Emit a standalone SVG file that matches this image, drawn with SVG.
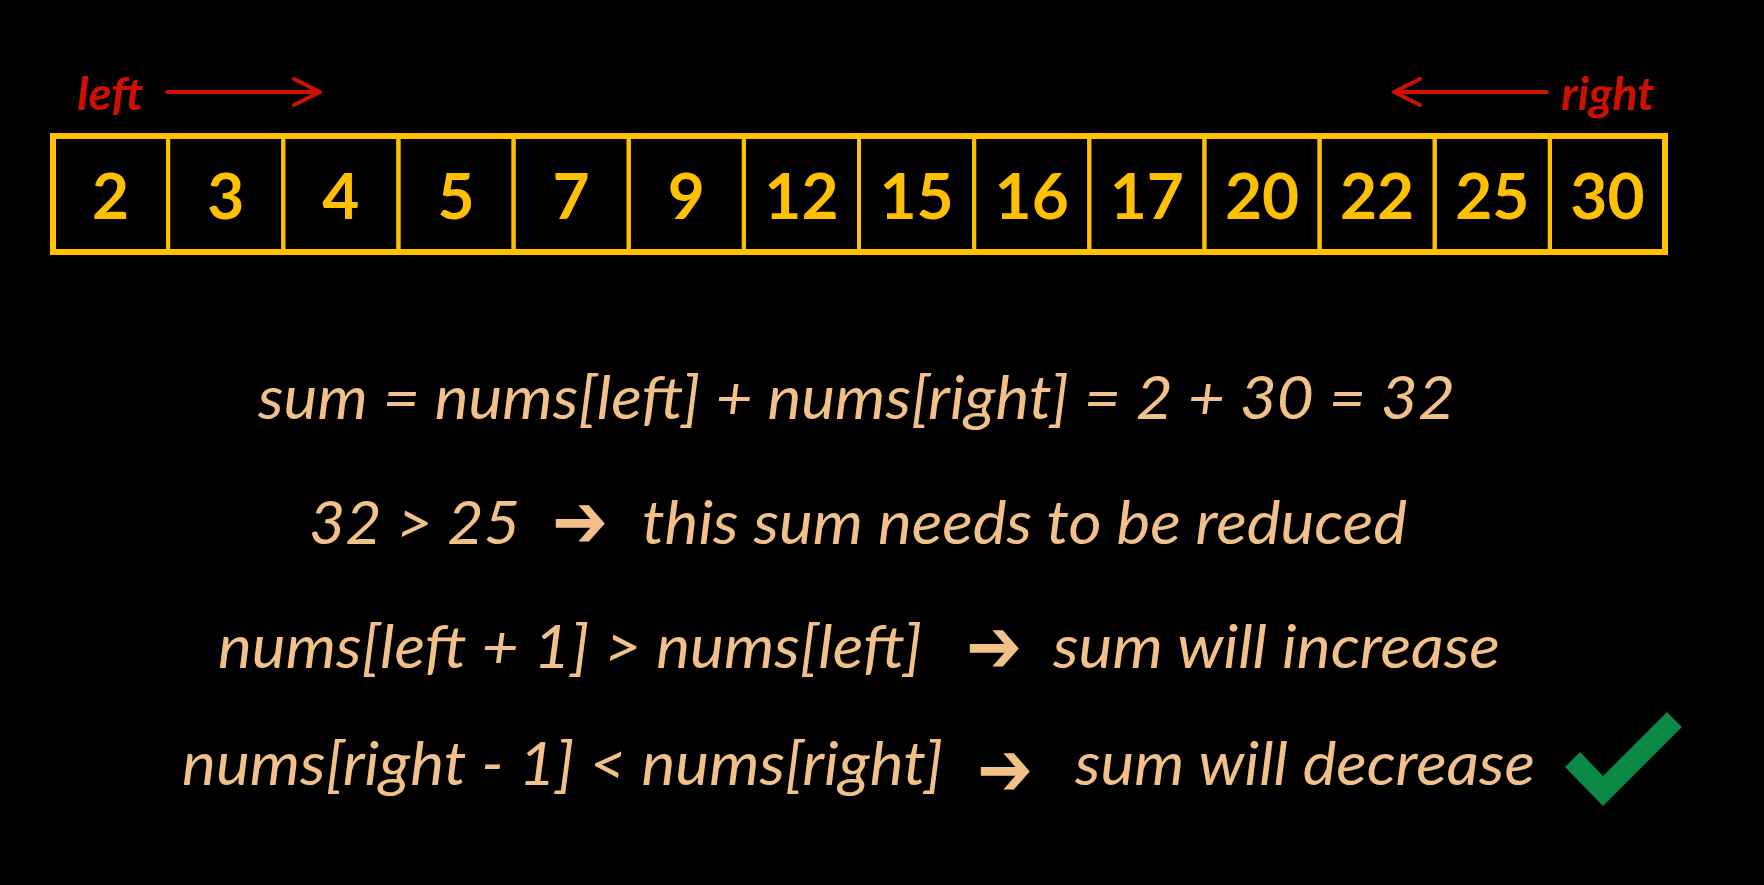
<svg xmlns="http://www.w3.org/2000/svg" width="1764" height="885" viewBox="0 0 1764 885">
<style>
.cell{fill:none;stroke:#FFC000;stroke-width:4}
.outer{fill:none;stroke:#FFC000;stroke-width:6}
.num{font-family:Lato,"Liberation Sans",sans-serif;font-weight:700;font-size:64px;fill:#FFC000;text-anchor:middle}
.ptr{font-family:Lato,"Liberation Sans",sans-serif;font-weight:700;font-style:italic;font-size:46px;fill:#CC1100}
.red{fill:none;stroke:#CC1100;stroke-width:4;stroke-linecap:round;stroke-linejoin:round}
.txt{font-family:Lato,"Liberation Sans",sans-serif;font-style:italic;font-size:60px;fill:#F2C089}
.arr{font-family:"DejaVu Sans",sans-serif;font-weight:700;font-size:76px;fill:#F2C089}
</style>
<rect width="1764" height="885" fill="#000"/>
<g id="array">
<g id="c0"><rect class="cell" x="53" y="136" width="115.14" height="116"/><text class="num" x="110.57" y="219">2</text></g>
<g id="c1"><rect class="cell" x="168.14" y="136" width="115.14" height="116"/><text class="num" x="225.71" y="219">3</text></g>
<g id="c2"><rect class="cell" x="283.29" y="136" width="115.14" height="116"/><text class="num" x="340.86" y="219">4</text></g>
<g id="c3"><rect class="cell" x="398.43" y="136" width="115.14" height="116"/><text class="num" x="456" y="219">5</text></g>
<g id="c4"><rect class="cell" x="513.57" y="136" width="115.14" height="116"/><text class="num" x="571.14" y="219">7</text></g>
<g id="c5"><rect class="cell" x="628.71" y="136" width="115.14" height="116"/><text class="num" x="686.29" y="219">9</text></g>
<g id="c6"><rect class="cell" x="743.86" y="136" width="115.14" height="116"/><text class="num" x="801.43" y="219">12</text></g>
<g id="c7"><rect class="cell" x="859" y="136" width="115.14" height="116"/><text class="num" x="916.57" y="219">15</text></g>
<g id="c8"><rect class="cell" x="974.14" y="136" width="115.14" height="116"/><text class="num" x="1031.71" y="219">16</text></g>
<g id="c9"><rect class="cell" x="1089.29" y="136" width="115.14" height="116"/><text class="num" x="1146.86" y="219">17</text></g>
<g id="c10"><rect class="cell" x="1204.43" y="136" width="115.14" height="116"/><text class="num" x="1262" y="219">20</text></g>
<g id="c11"><rect class="cell" x="1319.57" y="136" width="115.14" height="116"/><text class="num" x="1377.14" y="219">22</text></g>
<g id="c12"><rect class="cell" x="1434.71" y="136" width="115.14" height="116"/><text class="num" x="1492.29" y="219">25</text></g>
<g id="c13"><rect class="cell" x="1549.86" y="136" width="115.14" height="116"/><text class="num" x="1607.43" y="219">30</text></g>
<rect class="outer" x="53" y="136" width="1612" height="116"/>
</g>
<g id="left-label"><text class="ptr" x="77" y="110" textLength="66" lengthAdjust="spacingAndGlyphs">left</text></g>
<g id="right-label"><text class="ptr" x="1561" y="110" textLength="93" lengthAdjust="spacingAndGlyphs">right</text></g>
<g id="connectors">
<line class="red" x1="167" y1="92" x2="319" y2="92"/>
<polyline class="red" points="294,79 320,92 294,105"/>
<line class="red" x1="1395" y1="92" x2="1547" y2="92"/>
<polyline class="red" points="1420,79 1394,92 1420,105"/>
</g>
<g id="line1"><text class="txt" x="258" y="419" textLength="1197" lengthAdjust="spacingAndGlyphs">sum = nums[left] + nums[right] = 2 + 30 = 32</text></g>
<g id="line2">
<text class="txt" x="309" y="544" textLength="211" lengthAdjust="spacingAndGlyphs">32 &gt; 25</text>
<text class="arr" transform="translate(552,547) scale(0.88,1)">➔</text>
<text class="txt" x="642" y="544" textLength="765" lengthAdjust="spacingAndGlyphs">this sum needs to be reduced</text>
</g>
<g id="line3">
<text class="txt" x="218" y="668" textLength="704" lengthAdjust="spacingAndGlyphs">nums[left + 1] &gt; nums[left]</text>
<text class="arr" transform="translate(966,672) scale(0.88,1)">➔</text>
<text class="txt" x="1053" y="668" textLength="447" lengthAdjust="spacingAndGlyphs">sum will increase</text>
</g>
<g id="line4">
<text class="txt" x="182" y="785" textLength="761" lengthAdjust="spacingAndGlyphs">nums[right - 1] &lt; nums[right]</text>
<text class="arr" transform="translate(977,795) scale(0.88,1)">➔</text>
<text class="txt" x="1075" y="785" textLength="460" lengthAdjust="spacingAndGlyphs">sum will decrease</text>
</g>
<g id="checkmark"><polygon points="1565,767 1580,752 1603,776 1667,712 1682,727 1603,806" fill="#0B8A46"/></g>
</svg>
